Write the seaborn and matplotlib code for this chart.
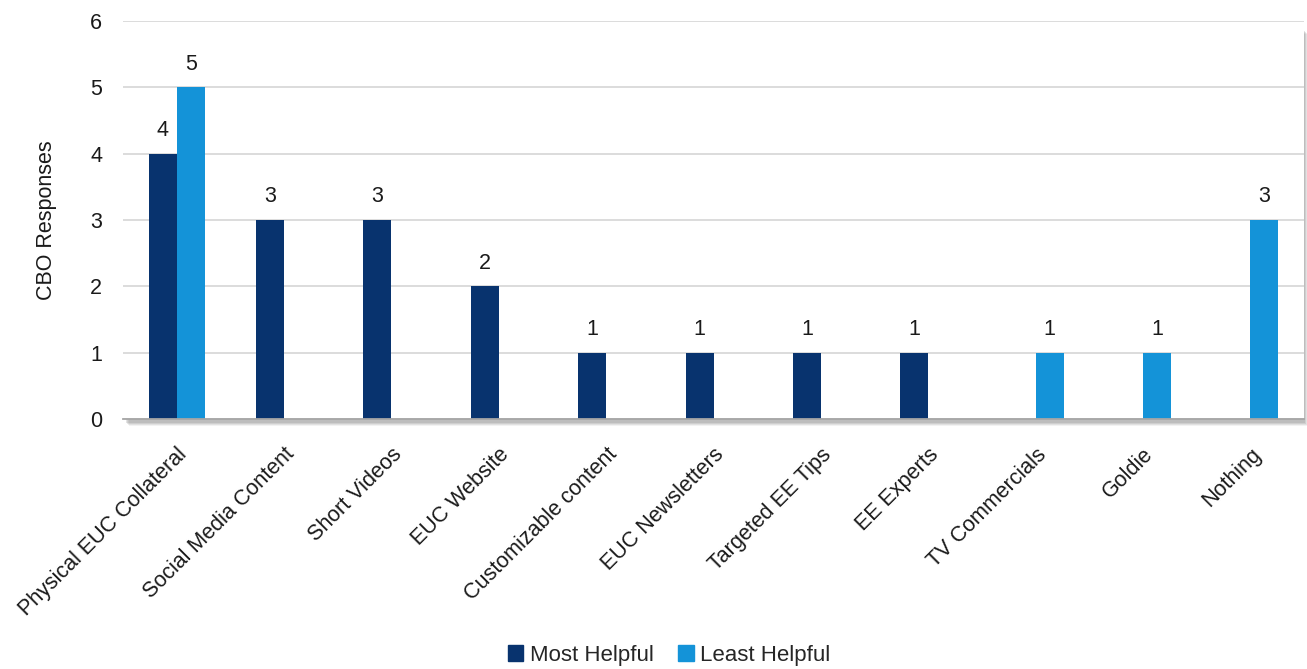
import matplotlib
matplotlib.use("Agg")
import matplotlib.pyplot as plt
import matplotlib.patches as mpatches
import seaborn as sns
import pandas as pd

categories = ["Physical EUC Collateral", "Social Media Content", "Short Videos",
              "EUC Website", "Customizable content", "EUC Newsletters",
              "Targeted EE Tips", "EE Experts", "TV Commercials", "Goldie", "Nothing"]
most_helpful = [4, 3, 3, 2, 1, 1, 1, 1, 0, 0, 0]
least_helpful = [5, 0, 0, 0, 0, 0, 0, 0, 1, 1, 3]
series_names = ["Most Helpful", "Least Helpful"]
colors = ["#08336E", "#1493D8"]
y_ticks = [0, 1, 2, 3, 4, 5, 6]

rows = []
for c, m, l in zip(categories, most_helpful, least_helpful):
    rows.append({"cat": c, "series": series_names[0], "val": m})
    rows.append({"cat": c, "series": series_names[1], "val": l})
df = pd.DataFrame(rows)

sns.set_theme(style="white")
plt.rcParams['font.family'] = ['Liberation Sans', 'DejaVu Sans']

FS = 15.5
TXT = "#1a1a1a"

fig = plt.figure(figsize=(13.07, 6.69), dpi=100)
W, H = 1307, 669
left, right, top, bottom = 123, 1304, 21, 419
ax = fig.add_axes([left / W, 1 - bottom / H, (right - left) / W, (bottom - top) / H])

# soft shadow behind plot area (bottom and right)
for i, a in enumerate([0.10, 0.14, 0.18, 0.22]):
    off = 6 - i
    shadow = mpatches.Rectangle(((left + off) / W, 1 - (bottom + off + 1) / H),
                                (right - left - 2) / W, (bottom - top - 6) / H,
                                transform=fig.transFigure, facecolor="#808080",
                                edgecolor="none", alpha=a, zorder=0)
    fig.patches.append(shadow)
ax.set_zorder(1)
ax.set_facecolor("white")

sns.barplot(data=df, x="cat", y="val", hue="series", palette=colors, width=0.52,
            saturation=1, ax=ax, legend=True, edgecolor="none")

for container in ax.containers:
    labels = [f"{int(v)}" if v > 0 else "" for v in container.datavalues]
    ax.bar_label(container, labels=labels, padding=9, fontsize=FS, color=TXT)

ax.set_ylim(0, 6)
ax.set_yticks(y_ticks)
ax.set_yticklabels([str(t) for t in y_ticks], fontsize=FS, color=TXT)
ax.set_xlim(-0.5, len(categories) - 0.5)
ax.yaxis.grid(True, color="#d9d9d9", linewidth=1.3)
ax.set_axisbelow(True)
ax.tick_params(axis="y", length=0, pad=15)
ax.tick_params(axis="x", length=0, pad=18)
ax.set_xticks(range(len(categories)))
ax.set_xticklabels(categories, rotation=45, ha="right", rotation_mode="anchor",
                   fontsize=FS, color=TXT)
ax.set_xlabel("")
ax.set_ylabel("CBO Responses", fontsize=FS, color=TXT, labelpad=24)

for s in ["top", "right", "left"]:
    ax.spines[s].set_visible(False)
ax.spines["bottom"].set_color("#a6a6a6")
ax.spines["bottom"].set_linewidth(1.3)

leg = ax.get_legend()
if leg is not None:
    leg.remove()
handles = [mpatches.Patch(color=colors[0], label=series_names[0]),
           mpatches.Patch(color=colors[1], label=series_names[1])]
fig.legend(handles=handles, loc="center", bbox_to_anchor=(0.512, 1 - 655 / H), ncol=2,
           frameon=False, fontsize=FS + 0.5, handlelength=0.7, handleheight=0.7,
           handletextpad=0.3, columnspacing=1.1)

fig.savefig("out.png", dpi=100, facecolor="white")
